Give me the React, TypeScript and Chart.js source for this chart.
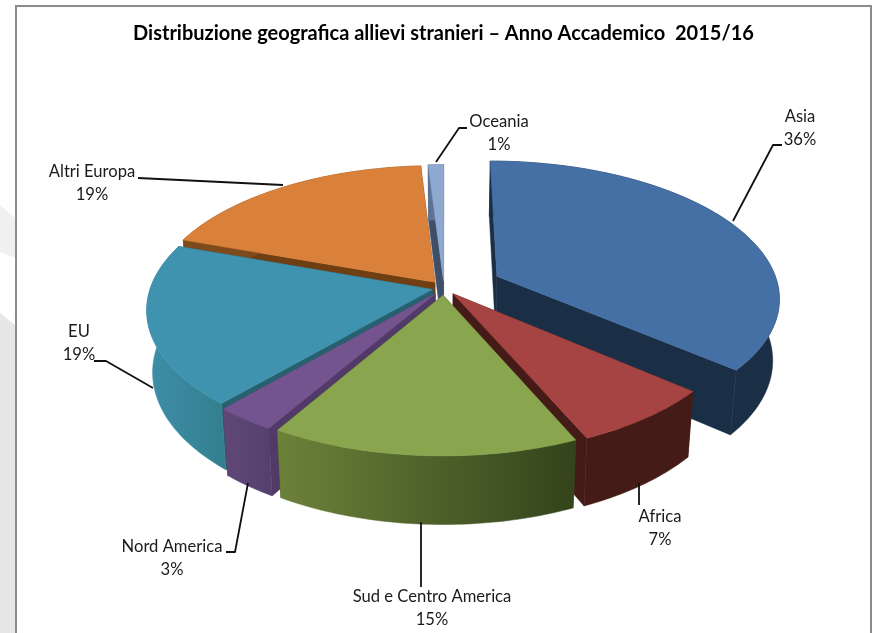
import React, { useEffect, useRef } from "react";
import { Chart, registerables } from "chart.js";

Chart.register(...registerables);

const categories = ["Asia", "Africa", "Sud e Centro America", "Nord America", "EU", "Altri Europa", "Oceania"];
const shares = [36.2, 7.17, 15.13, 3.0, 18.9, 18.6, 1.0];
const explode = [59, 15, 15, 15, 12, 15, 15];

const TITLE = "Distribuzione geografica allievi stranieri \u2013 Anno Accademico  2015/16";

const topColors = ["#4570a6", "#a54442", "#89a54e", "#74548f", "#3f93af", "#d9803a", "#8fa8d0"];
const wallColors = ["#1a2e46", "#451b18", "#3d4f1e", "#523a68", "#27606f", "#6f3f13", "#3f4f68"];
const rimLeft = ["#1a2e46", "#451b18", "#6c8239", "#5f4878", "#3e8ea9", "#7d4a1c", "#5d7396"];
const rimRight = ["#1a2e46", "#451b18", "#33431b", "#56406e", "#33808f", "#7d4a1c", "#5d7396"];

// Label layout: text centre + leader polyline (page pixels)
const labelLayout = [
  { x: 800, y: 117, line: [[782, 145], [773, 145], [733, 221]] },
  { x: 660, y: 517, line: [[639, 505], [639, 483]] },
  { x: 432, y: 597, line: [[421, 587], [421, 522]] },
  { x: 172, y: 547, line: [[226, 552], [235, 552], [248, 483]] },
  { x: 79, y: 332, line: [[94, 361], [106, 361], [153, 388]] },
  { x: 92, y: 172, line: [[138, 178], [283, 185]] },
  { x: 499, y: 122, line: [[467, 128], [459, 128], [436, 162]] },
];

const GEO = { cx: 444, cy: 288, R: 282, squash: 0.479, k: 0.145, shrink: 0.02, depth: 61 };

function project(u: number, v: number, z: number) {
  const s = 1 / (1 - (GEO.k * v) / GEO.R);
  const f = 1 - GEO.shrink * z;
  return {
    x: GEO.cx + u * s * f,
    y: GEO.cy + GEO.squash * v * s * f + GEO.depth * s * z,
  };
}

function poly(ctx: CanvasRenderingContext2D, pts: { x: number; y: number }[], fill: string | CanvasGradient) {
  ctx.beginPath();
  pts.forEach((p, i) => (i ? ctx.lineTo(p.x, p.y) : ctx.moveTo(p.x, p.y)));
  ctx.closePath();
  ctx.fillStyle = fill;
  ctx.fill();
  ctx.strokeStyle = fill;
  ctx.lineWidth = 0.5;
  ctx.stroke();
}

const pie3d = {
  id: "pie3d",
  beforeDraw(chart: any) {
    const ctx: CanvasRenderingContext2D = chart.ctx;
    ctx.save();
    ctx.fillStyle = "#ffffff";
    ctx.fillRect(0, 0, chart.width, chart.height);
    // page backdrop outside the frame
    ctx.fillStyle = "#e8e7e8";
    ctx.beginPath();
    ctx.moveTo(0, 313);
    ctx.lineTo(15, 325);
    ctx.lineTo(15, 633);
    ctx.lineTo(0, 633);
    ctx.closePath();
    ctx.fill();
    ctx.fillStyle = "#f1f0f1";
    ctx.beginPath();
    ctx.moveTo(0, 205);
    ctx.lineTo(15, 218);
    ctx.lineTo(15, 258);
    ctx.lineTo(0, 252);
    ctx.closePath();
    ctx.fill();
    // frame
    ctx.strokeStyle = "#8c8c8c";
    ctx.lineWidth = 2;
    ctx.beginPath();
    ctx.moveTo(16, 640);
    ctx.lineTo(16, 6);
    ctx.lineTo(871, 6);
    ctx.lineTo(871, 640);
    ctx.stroke();
    ctx.restore();
  },
  beforeDatasetsDraw(chart: any) {
    const ctx: CanvasRenderingContext2D = chart.ctx;
    const arcs = chart.getDatasetMeta(0).data as any[];
    const items = arcs.map((arc, i) => {
      const { startAngle, endAngle } = arc.getProps(["startAngle", "endAngle"]);
      const mid = (startAngle + endAngle) / 2;
      return { i, startAngle, endAngle, mid, off: arc.options.offset as number };
    });
    items.sort((a, b) => Math.sin(a.mid) - Math.sin(b.mid));
    ctx.save();
    for (const it of items) {
      const ou = Math.cos(it.mid) * it.off;
      const ov = Math.sin(it.mid) * it.off;
      const n = Math.max(4, Math.ceil((it.endAngle - it.startAngle) / 0.02));
      const rim: [number, number][] = [];
      for (let j = 0; j <= n; j++) {
        const t = it.startAngle + ((it.endAngle - it.startAngle) * j) / n;
        rim.push([ou + GEO.R * Math.cos(t), ov + GEO.R * Math.sin(t)]);
      }
      const first = rim[0];
      const last = rim[rim.length - 1];
      // radial walls
      for (const edge of [first, last]) {
        poly(ctx, [project(ou, ov, 0), project(edge[0], edge[1], 0), project(edge[0], edge[1], 1), project(ou, ov, 1)], wallColors[it.i]);
      }
      // outer wall
      const xs = rim.map((p) => project(p[0], p[1], 0).x);
      const grad = ctx.createLinearGradient(Math.min(...xs), 0, Math.max(...xs), 0);
      grad.addColorStop(0, rimLeft[it.i]);
      grad.addColorStop(1, rimRight[it.i]);
      const wall = [...rim.map((p) => project(p[0], p[1], 0)), ...rim.slice().reverse().map((p) => project(p[0], p[1], 1))];
      poly(ctx, wall, grad);
      // top face
      poly(ctx, [project(ou, ov, 0), ...rim.map((p) => project(p[0], p[1], 0))], topColors[it.i]);
    }
    ctx.restore();
    return false;
  },
  afterDraw(chart: any) {
    const ctx: CanvasRenderingContext2D = chart.ctx;
    const values: number[] = chart.data.datasets[0].data;
    const total = values.reduce((a, b) => a + b, 0);
    ctx.save();
    ctx.strokeStyle = "#111111";
    ctx.lineWidth = 1.8;
    ctx.lineJoin = "round";
    labelLayout.forEach((l) => {
      ctx.beginPath();
      l.line.forEach((p, i) => (i ? ctx.lineTo(p[0], p[1]) : ctx.moveTo(p[0], p[1])));
      ctx.stroke();
    });
    ctx.font = "16.6px Lato";
    ctx.fillStyle = "#1a1a1a";
    ctx.textAlign = "center";
    ctx.textBaseline = "middle";
    chart.data.labels.forEach((name: string, i: number) => {
      const l = labelLayout[i];
      ctx.fillText(name, l.x, l.y);
      ctx.fillText(`${Math.round((values[i] / total) * 100)}%`, l.x, l.y + 23);
    });
    ctx.restore();
  },
};

export default function App() {
  const ref = useRef<HTMLCanvasElement | null>(null);
  useEffect(() => {
    document.body.style.margin = "0";
    const chart = new Chart(ref.current as HTMLCanvasElement, {
      type: "pie",
      data: {
        labels: categories,
        datasets: [{ data: shares, backgroundColor: topColors, offset: explode, borderWidth: 0 }],
      },
      options: {
        responsive: false,
        animation: false,
        layout: { padding: { left: 10 } },
        plugins: {
          legend: { display: false },
          tooltip: { enabled: false },
          title: {
            display: true,
            text: TITLE,
            color: "#000000",
            font: { family: "Lato", size: 20, weight: "bold" },
            padding: { top: 22, bottom: 10 },
          },
        },
      },
      plugins: [pie3d as any],
    });
    return () => chart.destroy();
  }, []);
  return <canvas ref={ref} width={877} height={633} style={{ display: "block" }} />;
}
